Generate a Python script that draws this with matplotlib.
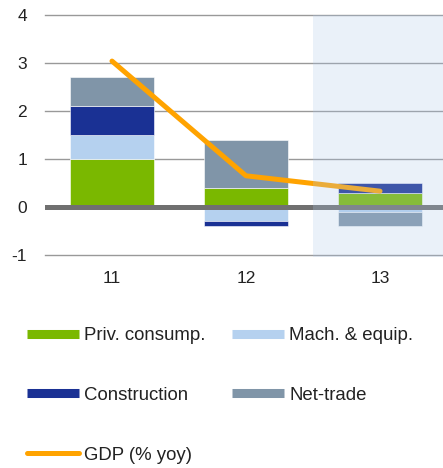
import matplotlib
matplotlib.use("Agg")
import matplotlib.pyplot as plt
import numpy as np
from matplotlib.lines import Line2D

plt.rcParams["font.family"] = ["Liberation Sans", "DejaVu Sans"]

# data
years = ["11", "12", "13"]
priv_consump = [1.0, 0.4, 0.3]
mach_equip = [0.5, -0.3, -0.1]
construction = [0.6, -0.1, 0.2]
net_trade = [0.6, 1.0, -0.3]
gdp = [3.04, 0.65, 0.33]

c_priv = "#7ab800"
c_mach = "#b5d1ef"
c_cons = "#1a3194"
c_net = "#8095a8"
c_gdp = "#ffa300"

fig = plt.figure(figsize=(4.43, 4.68), dpi=100)
ax = fig.add_axes([45 / 443, 1 - 257.4 / 468, 1 - 45 / 443, 242.4 / 468])

x = np.arange(len(years))
w = 0.62
series = [(priv_consump, c_priv), (mach_equip, c_mach),
          (construction, c_cons), (net_trade, c_net)]
pos_base = np.zeros(len(years))
neg_base = np.zeros(len(years))
for vals, col in series:
    vals = np.array(vals)
    base = np.where(vals >= 0, pos_base, neg_base)
    ax.bar(x, vals, w, bottom=base, color=col, edgecolor="white",
           linewidth=0.4, zorder=2)
    pos_base += np.where(vals >= 0, vals, 0)
    neg_base += np.where(vals < 0, vals, 0)

ax.axhline(0, color="#707070", lw=3.6, zorder=3)
ax.plot(x, gdp, color=c_gdp, lw=3.6, solid_capstyle="round", zorder=4)

# forecast shading on top
ax.axvspan(1.5, 2.6, color="#acc8eb", alpha=0.25, lw=0, zorder=5)

ax.set_xlim(-0.5, 2.47)
ax.set_ylim(-1.05, 4.0)
ax.set_yticks([-1, 0, 1, 2, 3, 4])
ax.set_yticklabels(["-1", "0", "1", "2", "3", "4"])
ax.set_xticks(x)
ax.set_xticklabels(years)
ax.tick_params(length=0, labelsize=12.5, colors="#222222")
ax.tick_params(axis="y", pad=13)
ax.tick_params(axis="x", pad=10)
for gy in [-1, 1, 2, 3, 4]:
    ax.axhline(gy, color="#999999", lw=1, zorder=1, clip_on=False)
for s in ax.spines.values():
    s.set_visible(False)

handles = [
    Line2D([], [], color=c_priv, lw=6.5, solid_capstyle="butt"),
    Line2D([], [], color=c_cons, lw=6.5, solid_capstyle="butt"),
    Line2D([], [], color=c_gdp, lw=3.6, solid_capstyle="round"),
    Line2D([], [], color=c_mach, lw=6.5, solid_capstyle="butt"),
    Line2D([], [], color=c_net, lw=6.5, solid_capstyle="butt"),
]
labels = ["Priv. consump.", "Construction", "GDP (% yoy)",
          "Mach. & equip.", "Net-trade"]
fig.legend(handles, labels, ncol=2, loc="upper left",
           bbox_to_anchor=(10 / 443, 1 - 310.5 / 468), frameon=False,
           fontsize=13.4, handlelength=2.8, handletextpad=0.27,
           labelspacing=2.29, columnspacing=1.45, labelcolor="#222222")

fig.savefig("out.png", dpi=100)
